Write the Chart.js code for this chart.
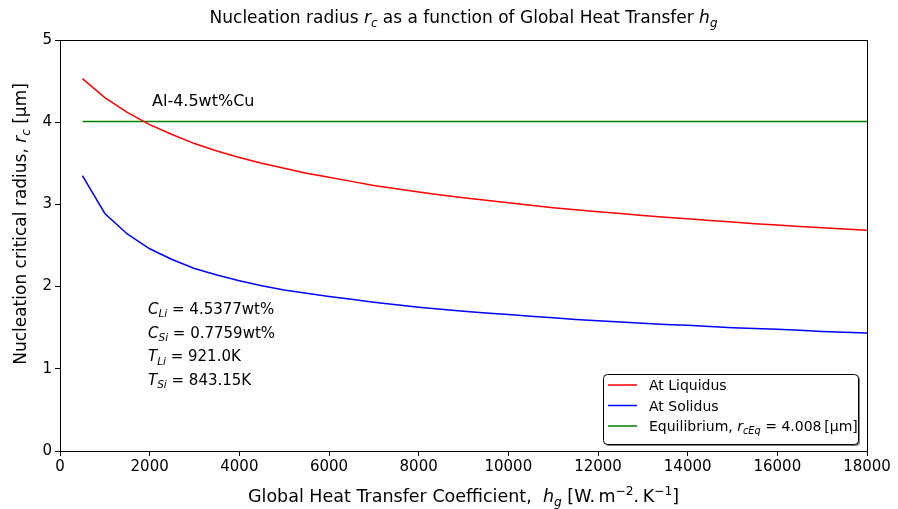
<!DOCTYPE html>
<html>
<head>
<meta charset="utf-8">
<script src="https://cdn.jsdelivr.net/npm/chart.js@4.4.1/dist/chart.umd.min.js"></script>
<style>
  body { margin: 0; background: #fff; }
</style>
</head>
<body>
<canvas id="chRadius" width="898" height="509"></canvas>
<script>
// global heat transfer coefficient hg [W/m2.K]
const hg = [500, 1000, 1500, 2000, 2500, 3000, 3500, 4000, 4500, 5000, 5500, 6000,
  6500, 7000, 7500, 8000, 8500, 9000, 9500, 10000, 10500, 11000, 11500, 12000,
  12500, 13000, 13500, 14000, 14500, 15000, 15500, 16000, 16500, 17000, 17500, 18000];
// critical radius rc [um]
const rcLiquidus = [4.53, 4.30, 4.12, 3.97, 3.85, 3.74, 3.65, 3.57, 3.50, 3.44, 3.38, 3.33,
  3.28, 3.23, 3.19, 3.15, 3.115, 3.08, 3.05, 3.02, 2.99, 2.96, 2.935, 2.91,
  2.89, 2.865, 2.845, 2.825, 2.805, 2.785, 2.765, 2.75, 2.73, 2.715, 2.70, 2.685];
const rcSolidus = [3.35, 2.89, 2.64, 2.46, 2.33, 2.22, 2.14, 2.07, 2.01, 1.96, 1.92, 1.88,
  1.845, 1.81, 1.78, 1.75, 1.725, 1.70, 1.68, 1.66, 1.64, 1.62, 1.60, 1.585,
  1.57, 1.555, 1.54, 1.53, 1.515, 1.50, 1.49, 1.48, 1.47, 1.455, 1.445, 1.435];
const rcEq = 4.008;

const xTicks = [0, 2000, 4000, 6000, 8000, 10000, 12000, 14000, 16000, 18000];
const yTicks = [0, 1, 2, 3, 4, 5];

const alloyName = 'Al-4.5wt%Cu';
// symbol, subscript, value
const compNotes = [
  ['C', 'Li', ' = 4.5377wt%'],
  ['C', 'Si', ' = 0.7759wt%'],
  ['T', 'Li', ' = 921.0K'],
  ['T', 'Si', ' = 843.15K']
];

const seriesNames = ['At Liquidus', 'At Solidus', 'Equilibrium'];
const colors = ['#ff0000', '#0000ff', '#008000'];

const FONT = '"DejaVu Sans"';

// rich text: [text, kind] kind = '' | 'i' | 'isub' | 'sup'
function fontFor(kind, size) {
  const small = kind === 'isub' || kind === 'sup';
  const s = small ? size * 0.7 : size;
  const style = (kind === 'i' || kind === 'isub') ? 'oblique ' : '';
  return style + s + 'px ' + FONT;
}
function richWidth(ctx, parts, size) {
  let w = 0;
  parts.forEach(p => { ctx.font = fontFor(p[1], size); w += ctx.measureText(p[0]).width; });
  return w;
}
function drawRich(ctx, parts, x, y, size, align) {
  const w = richWidth(ctx, parts, size);
  let cx = align === 'center' ? x - w / 2 : x;
  ctx.textAlign = 'left';
  ctx.textBaseline = 'alphabetic';
  parts.forEach(p => {
    ctx.font = fontFor(p[1], size);
    const dy = p[1] === 'isub' ? size * 0.22 : p[1] === 'sup' ? -size * 0.42 : 0;
    ctx.fillText(p[0], cx, y + dy);
    cx += ctx.measureText(p[0]).width;
  });
}

const titleParts = [['Nucleation radius ', ''], ['r', 'i'], ['c', 'isub'],
  [' as a function of Global Heat Transfer ', ''], ['h', 'i'], ['g', 'isub']];
const xLabelParts = [['Global Heat Transfer Coefficient,  ', ''], ['h', 'i'], ['g', 'isub'],
  [' [W.\u2009m', ''], ['\u22122', 'sup'], ['.\u2009K', ''], ['\u22121', 'sup'], [']', '']];
const yLabelParts = [['Nucleation critical radius, ', ''], ['r', 'i'], ['c', 'isub'], [' [\u03bcm]', '']];
const legendParts = [
  [[seriesNames[0], '']],
  [[seriesNames[1], '']],
  [[seriesNames[2] + ', ', ''], ['r', 'i'], ['cEq', 'isub'], [' = ' + rcEq.toFixed(3) + '\u2009[\u03bcm]', '']]
];

const textPlugin = {
  id: 'texts',
  afterDraw(chart) {
    const ctx = chart.ctx;
    const a = chart.chartArea;
    ctx.save();
    // frame
    ctx.strokeStyle = '#000';
    ctx.lineWidth = 1;
    ctx.strokeRect(a.left + 0.5, a.top + 0.5, a.right - a.left, a.bottom - a.top);

    ctx.fillStyle = '#000';
    drawRich(ctx, titleParts, (a.left + a.right) / 2, 23, 17, 'center');
    drawRich(ctx, xLabelParts, (a.left + a.right) / 2, 502, 17.5, 'center');

    ctx.save();
    ctx.translate(26, 224);
    ctx.rotate(-Math.PI / 2);
    drawRich(ctx, yLabelParts, 0, 0, 17, 'center');
    ctx.restore();

    ctx.font = '16px ' + FONT;
    ctx.fillText(alloyName, 152, 106);
    compNotes.forEach((n, i) => {
      drawRich(ctx, [[n[0], 'i'], [n[1], 'isub'], [n[2], '']], 148, 314 + i * 23.7, 15, 'left');
    });

    // legend
    const lx = 603, ly = 374, lw = 255, lh = 70;
    ctx.fillStyle = 'rgba(0,0,0,0.5)';
    ctx.beginPath();
    ctx.roundRect(lx + 2, ly + 2, lw, lh, 4);
    ctx.fill();
    ctx.fillStyle = '#fff';
    ctx.strokeStyle = '#000';
    ctx.beginPath();
    ctx.roundRect(lx + 0.5, ly + 0.5, lw, lh, 4);
    ctx.fill();
    ctx.stroke();
    chart.data.datasets.forEach((ds, i) => {
      const ry = 385 + i * 20.5;
      ctx.strokeStyle = ds.borderColor;
      ctx.lineWidth = 1.5;
      ctx.beginPath();
      ctx.moveTo(608, ry);
      ctx.lineTo(637, ry);
      ctx.stroke();
      ctx.fillStyle = '#000';
      drawRich(ctx, legendParts[i], 649, ry + 5, 14, 'left');
    });
    ctx.restore();
  }
};

const lineData = (ys) => hg.map((h, i) => ({ x: h, y: ys[i] }));

new Chart(document.getElementById('chRadius'), {
  type: 'line',
  data: {
    datasets: [
      { label: seriesNames[0], data: lineData(rcLiquidus), borderColor: colors[0] },
      { label: seriesNames[1], data: lineData(rcSolidus), borderColor: colors[1] },
      { label: seriesNames[2], data: hg.map(h => ({ x: h, y: rcEq })), borderColor: colors[2] }
    ]
  },
  options: {
    responsive: false,
    animation: false,
    devicePixelRatio: 1,
    layout: { padding: { left: 0, top: 40, right: 31, bottom: 0 } },
    elements: {
      point: { radius: 0 },
      line: { borderWidth: 1.5, tension: 0, fill: false }
    },
    plugins: { legend: { display: false }, tooltip: { enabled: false }, title: { display: false } },
    scales: {
      x: {
        type: 'linear', min: 0, max: 18000,
        afterFit: s => { s.height = 58; },
        afterBuildTicks: s => { s.ticks = xTicks.map(v => ({ value: v })); },
        grid: { drawOnChartArea: false, tickLength: 5, tickColor: '#000' },
        border: { color: '#000', width: 1 },
        ticks: {
          color: '#000', font: { family: 'DejaVu Sans', size: 15 }, padding: 2, maxRotation: 0,
          callback: v => String(v)
        }
      },
      y: {
        min: 0, max: 5,
        afterFit: s => { s.width = 60; },
        afterBuildTicks: s => { s.ticks = yTicks.map(v => ({ value: v })); },
        grid: { drawOnChartArea: false, tickLength: 5, tickColor: '#000' },
        border: { color: '#000', width: 1 },
        ticks: { color: '#000', font: { family: 'DejaVu Sans', size: 15 }, padding: 3, callback: v => String(v) }
      }
    }
  },
  plugins: [textPlugin]
});
</script>
</body>
</html>
